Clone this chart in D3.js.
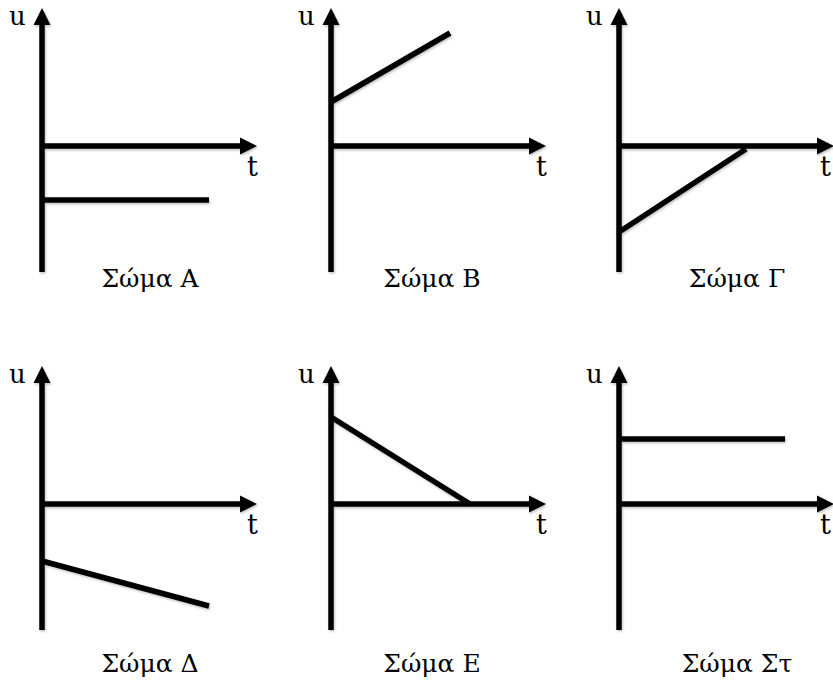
<!DOCTYPE html>
<html><head><meta charset="utf-8">
<script src="https://cdn.jsdelivr.net/npm/d3@7"></script>
<style>html,body{margin:0;padding:0;background:#fff;}svg{display:block;}</style>
</head><body>
<script>
// Panel titles
const panelNames = ["Σώμα Α","Σώμα Β","Σώμα Γ","Σώμα Δ","Σώμα Ε","Σώμα Στ"];
// Each body: straight u(t) segment (arbitrary units, u axis: +up)
const tStart = [0,0,0,0,0,0];
const tEnd   = [16.7,11.9,12.7,16.7,13.9,16.6];
const uStart = [-5.4,4.4,-8.6,-5.7,8.7,6.5];
const uEnd   = [-5.4,11.3,-0.3,-10.2,0,6.5];
const axisLabels = {u:"u", t:"t"};

const W=833,H=682;
const svg=d3.select("body").append("svg").attr("width",W).attr("height",H);
const defs=svg.append("defs");
const f=defs.append("filter").attr("id","sh").attr("x","-20%").attr("y","-20%").attr("width","140%").attr("height","140%");
f.append("feDropShadow").attr("dx",1).attr("dy",1.5).attr("stdDeviation",1.2).attr("flood-color","#000").attr("flood-opacity",0.25);

const colX=[42,331,619], rowY=[146,504];
const titleCx=[150,432,737], titleDy=[141,168];
const tDomain=[0,21.5], uDomain=[-12.6,13.8];
const font="DejaVu Serif";

panelNames.forEach((name,i)=>{
  const c=i%3, r=Math.floor(i/3);
  const ox=colX[c], oy=rowY[r];
  const x=d3.scaleLinear().domain(tDomain).range([ox,ox+215]);
  const y=d3.scaleLinear().domain(uDomain).range([oy+126,oy-138]);
  const g=svg.append("g");
  const ink=g.append("g").attr("filter","url(#sh)");
  const x0=x(0), y0=y(0), yTop=y(uDomain[1]), xEnd=x(tDomain[1]);
  // vertical axis
  ink.append("line").attr("x1",x0).attr("x2",x0).attr("y1",y(uDomain[0])).attr("y2",yTop+14)
    .attr("stroke","#000").attr("stroke-width",5.5);
  ink.append("path").attr("d",d3.line()([[x0-8.5,yTop+17],[x0,yTop],[x0+8.5,yTop+17]])+"Z").attr("fill","#000");
  // horizontal axis
  ink.append("line").attr("x1",x0).attr("x2",xEnd-14).attr("y1",y0).attr("y2",y0)
    .attr("stroke","#000").attr("stroke-width",5.5);
  ink.append("path").attr("d",d3.line()([[xEnd-17,y0-8.5],[xEnd,y0],[xEnd-17,y0+8.5]])+"Z").attr("fill","#000");
  // data line
  ink.append("path").attr("d",d3.line().x(d=>x(d[0])).y(d=>y(d[1]))([[tStart[i],uStart[i]],[tEnd[i],uEnd[i]]]))
    .attr("stroke","#000").attr("stroke-width",5.5).attr("fill","none");
  // labels
  g.append("text").attr("x",x0-33).attr("y",yTop+17).text(axisLabels.u)
    .attr("font-family",font).attr("font-size",26);
  g.append("text").attr("x",Math.min(x0+205,W-13)).attr("y",y0+30).text(axisLabels.t)
    .attr("font-family",font).attr("font-size",27);
  g.append("text").attr("x",titleCx[c]).attr("y",oy+titleDy[r]).attr("text-anchor","middle").text(name)
    .attr("font-family",font).attr("font-size",25);
});
</script>
</body></html>
